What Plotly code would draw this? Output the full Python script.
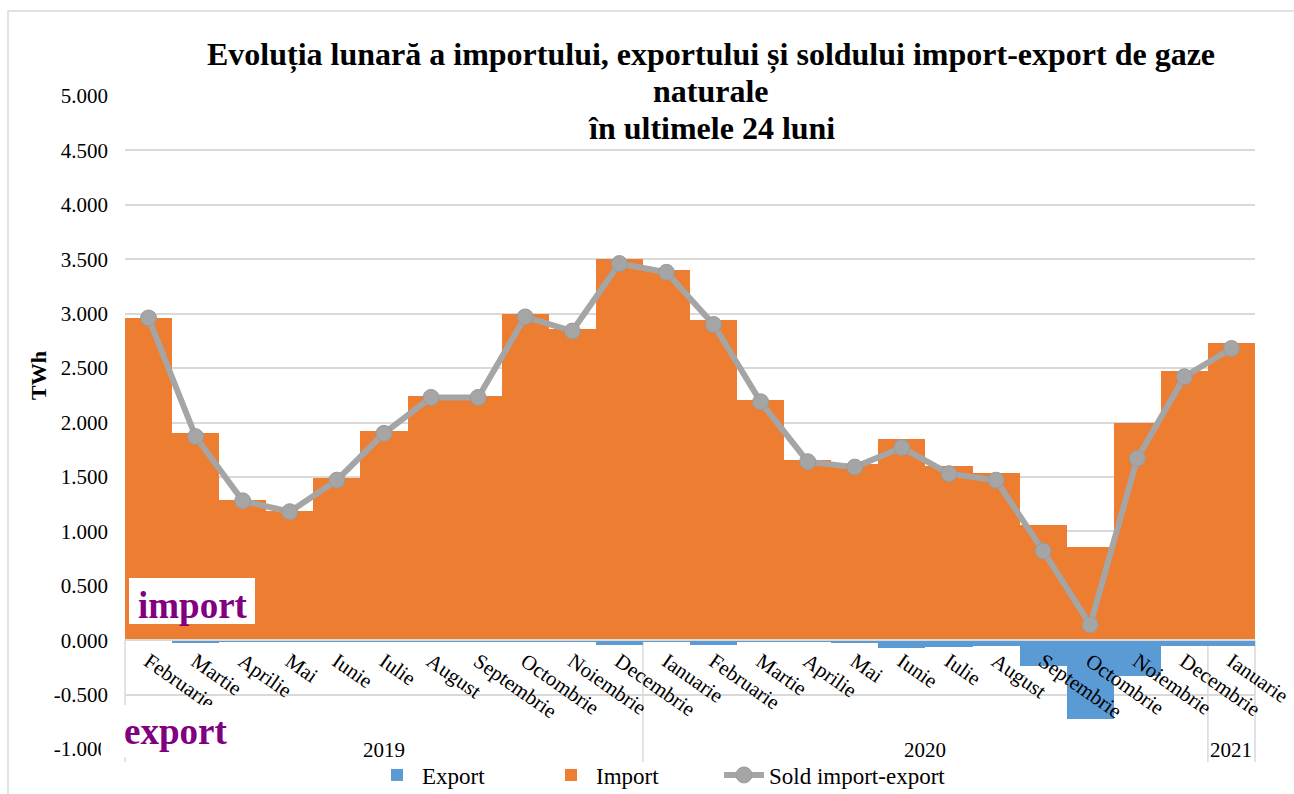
import plotly.graph_objects as go

# ---------------- data ----------------
months = ["Februarie", "Martie", "Aprilie", "Mai", "Iunie", "Iulie", "August",
          "Septembrie", "Octombrie", "Noiembrie", "Decembrie",
          "Ianuarie", "Februarie", "Martie", "Aprilie", "Mai", "Iunie", "Iulie",
          "August", "Septembrie", "Octombrie", "Noiembrie", "Decembrie",
          "Ianuarie"]
years = ["2019", "2020", "2021"]
year_counts = [11, 12, 1]

import_twh = [2.96, 1.90, 1.29, 1.19, 1.49, 1.92, 2.24, 2.24, 3.00, 2.86, 3.50,
              3.40, 2.94, 2.21, 1.66, 1.62, 1.85, 1.60, 1.54, 1.06, 0.86, 2.00,
              2.47, 2.73]
export_twh = [-0.005, -0.03, -0.01, -0.01, -0.02, -0.02, -0.01, -0.01, -0.02,
              -0.01, -0.04, -0.02, -0.04, -0.02, -0.02, -0.03, -0.07, -0.06,
              -0.05, -0.24, -0.72, -0.33, -0.05, -0.05]
sold_twh = [2.96, 1.87, 1.28, 1.18, 1.47, 1.90, 2.23, 2.23, 2.97, 2.84, 3.46,
            3.38, 2.90, 2.19, 1.64, 1.59, 1.77, 1.53, 1.47, 0.82, 0.14, 1.67,
            2.42, 2.68]

y_ticks = [-1.0, -0.5, 0.0, 0.5, 1.0, 1.5, 2.0, 2.5, 3.0, 3.5, 4.0, 4.5, 5.0]
y_ticklabels = ["-1.000", "-0.500", "0.000", "0.500", "1.000", "1.500", "2.000",
                "2.500", "3.000", "3.500", "4.000", "4.500", "5.000"]

title_lines = ["Evoluția lunară a importului, exportului și soldului import-export de gaze",
               "naturale",
               "în ultimele 24 luni"]

# ---------------- layout geometry ----------------
W, H = 1294, 794
L, R, T, B = 125, 39, 96, 45
PW, PH = W - L - R, H - T - B
Y_MIN, Y_MAX = -1.0, 5.0


def px2paper(px):
    return (px - L) / PW


def py2paper(py):
    return (H - B - py) / PH


zero_paper = (0 - Y_MIN) / (Y_MAX - Y_MIN)
SERIF = "Liberation Serif, Times New Roman, serif"
GRID = "#D9D9D9"
PURPLE = "#800080"

idx = list(range(len(months)))

fig = go.Figure()
fig.add_trace(go.Bar(x=idx, y=export_twh, name="Export", legend="legend",
                     marker=dict(color="#5B9BD5", line=dict(width=0))))
fig.add_trace(go.Bar(x=idx, y=import_twh, name="Import", legend="legend2",
                     marker=dict(color="#ED7D31", line=dict(width=0))))
fig.add_trace(go.Scatter(x=idx, y=sold_twh, name="Sold import-export",
                         legend="legend3", mode="lines+markers",
                         line=dict(color="#A5A5A5", width=6),
                         marker=dict(color="#A5A5A5", size=16,
                                     line=dict(color="#9A9A9A", width=1))))

annotations = []
# title (three lines)
for text, base in zip(title_lines, [67, 103, 140]):
    annotations.append(dict(text="<b>" + text + "</b>", xref="paper", yref="paper",
                            x=px2paper(711), y=py2paper(base + 8),
                            xanchor="center", yanchor="bottom", showarrow=False,
                            font=dict(family=SERIF, size=32, color="#000000")))
# y axis title
annotations.append(dict(text="<b>TWh</b>", xref="paper", yref="paper",
                        x=px2paper(38), y=py2paper(376), textangle=-90,
                        xanchor="center", yanchor="middle", showarrow=False,
                        font=dict(family=SERIF, size=22, color="#000000")))
# year labels
start = 0
for yr, cnt in zip(years, year_counts):
    center = start + (cnt - 1) / 2
    annotations.append(dict(text=yr, xref="x", yref="paper", x=center,
                            y=py2paper(750), xanchor="center", yanchor="middle",
                            showarrow=False,
                            font=dict(family=SERIF, size=21, color="#000000")))
    start += cnt
# text box labels (white boxes drawn as shapes below)
annotations.append(dict(text="<b>import</b>", xref="paper", yref="paper",
                        x=px2paper(136), y=py2paper(619 + 9), xanchor="left",
                        yanchor="bottom", showarrow=False,
                        font=dict(family=SERIF, size=37, color=PURPLE)))
annotations.append(dict(text="<b>export</b>", xref="paper", yref="paper",
                        x=px2paper(122), y=py2paper(745 + 9), xanchor="left",
                        yanchor="bottom", showarrow=False,
                        font=dict(family=SERIF, size=37, color=PURPLE)))

shapes = []
# group divider lines below the axis
bounds = [-0.5]
for cnt in year_counts:
    bounds.append(bounds[-1] + cnt)
for b in bounds:
    xp = (b + 0.5) / len(months)
    shapes.append(dict(type="line", xref="paper", yref="paper", x0=xp, x1=xp,
                       y0=zero_paper, y1=py2paper(762),
                       line=dict(color=GRID, width=1.5), layer="below"))
# white text boxes
shapes.append(dict(type="rect", xref="paper", yref="paper",
                   x0=px2paper(129), x1=px2paper(255), y0=py2paper(624), y1=py2paper(578),
                   fillcolor="#FFFFFF", line=dict(width=0), layer="above"))
shapes.append(dict(type="rect", xref="paper", yref="paper",
                   x0=px2paper(101), x1=px2paper(250), y0=py2paper(757), y1=py2paper(705),
                   fillcolor="#FFFFFF", line=dict(width=0), layer="above"))
# outer chart border
shapes.append(dict(type="rect", xref="paper", yref="paper",
                   x0=px2paper(8), x1=px2paper(1310), y0=py2paper(810), y1=py2paper(11),
                   line=dict(color=GRID, width=1.5), fillcolor="rgba(0,0,0,0)",
                   layer="below"))

legend_style = dict(orientation="h", xref="paper", yref="paper",
                    y=py2paper(775), xanchor="left", yanchor="middle",
                    font=dict(family=SERIF, size=23, color="#000000"),
                    bgcolor="rgba(0,0,0,0)", itemwidth=40)

fig.update_layout(
    width=W, height=H,
    margin=dict(l=L, r=R, t=T, b=B, pad=0, autoexpand=False),
    paper_bgcolor="#FFFFFF", plot_bgcolor="#FFFFFF",
    barmode="relative", bargap=0,
    font=dict(family=SERIF, size=21, color="#000000"),
    showlegend=True,
    legend=dict(x=px2paper(372), **legend_style),
    legend2=dict(x=px2paper(546), **legend_style),
    legend3=dict(x=px2paper(719), **legend_style),
    annotations=annotations,
    shapes=shapes,
    xaxis=dict(range=[-0.5, len(months) - 0.5], tickvals=idx, ticktext=months,
               tickangle=35, anchor="free", position=zero_paper, automargin=False,
               showline=True, linecolor=GRID, linewidth=1.5,
               showgrid=False, zeroline=False, ticks="",
               tickfont=dict(family=SERIF, size=21, color="#000000")),
    yaxis=dict(range=[Y_MIN, Y_MAX], tickvals=y_ticks, ticktext=y_ticklabels,
               automargin=False,
               showgrid=True, gridcolor=GRID, gridwidth=1.5,
               zeroline=True, zerolinecolor=GRID, zerolinewidth=1.5,
               showline=False, ticks="", ticklabelstandoff=16,
               tickfont=dict(family=SERIF, size=21, color="#000000")),
)

fig.write_html("out.html", config={"displayModeBar": False},
               post_script="document.body.style.margin='0';")
